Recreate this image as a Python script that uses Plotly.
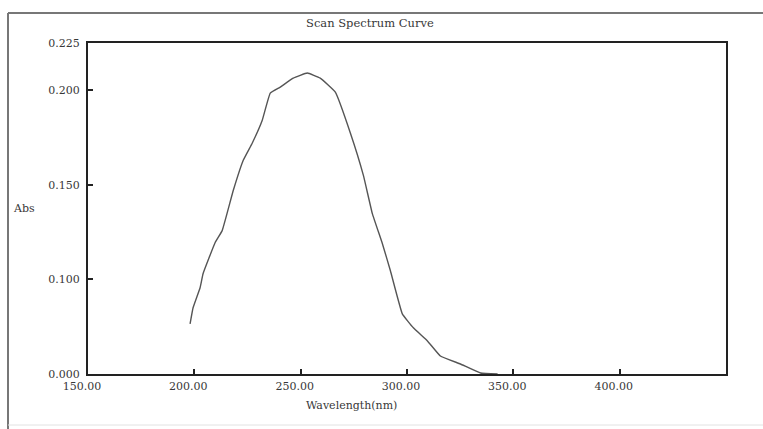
import plotly.graph_objects as go

wavelength = [198.0, 199.4, 202.7, 204.1, 209.8, 213.1, 218.3, 223.0, 227.2, 231.9,
              235.7, 240.4, 246.5, 253.1, 259.2, 266.3, 273.4, 279.5, 283.7, 288.4,
              292.2, 297.8, 303.0, 309.6, 315.7, 325.1, 334.6, 342.6]
absorbance = [0.0765, 0.085, 0.0956, 0.103, 0.1195, 0.1258, 0.147, 0.163, 0.172, 0.184,
              0.1985, 0.2017, 0.2064, 0.2091, 0.2064, 0.199, 0.1773, 0.155, 0.1348, 0.119,
              0.1046, 0.0818, 0.0744, 0.0675, 0.0595, 0.0553, 0.0505, 0.0500]

x_tickvals = [150, 200, 250, 300, 350, 400]
x_ticktext = ["150.00", "200.00", "250.00", "300.00", "350.00", "400.00"]
y_tickvals = [0.05, 0.10, 0.15, 0.20, 0.225]
y_ticktext = ["0.000", "0.100", "0.150", "0.200", "0.225"]

W, H = 763, 429
L, R, T, B = 88, 37, 43, 55
pw, ph = W - L - R, H - T - B

def px_x(x):
    return (x - L) / pw

def px_y(y):
    return (H - B - y) / ph

font = "DejaVu Serif, serif"
tc = "#383838"

fig = go.Figure()
fig.add_trace(go.Scatter(x=wavelength, y=absorbance, mode="lines",
                         line=dict(color="#555555", width=1.4, shape="spline", smoothing=0.3),
                         showlegend=False, hoverinfo="skip"))

fig.update_layout(
    width=W, height=H,
    margin=dict(l=L, r=R, t=T, b=B),
    paper_bgcolor="white", plot_bgcolor="white",
    font=dict(family=font, size=11, color=tc),
    xaxis=dict(range=[150, 450], tickvals=x_tickvals, ticktext=x_ticktext,
               ticks="inside", ticklen=5, tickwidth=2, tickcolor="#222",
               showline=True, linewidth=2, linecolor="#222", mirror=True,
               showgrid=False, zeroline=False, ticklabelshift=-6, ticklabelstandoff=1,
               tickfont=dict(family=font, size=11, color=tc)),
    yaxis=dict(range=[0.05, 0.225], tickvals=y_tickvals, ticktext=y_ticktext,
               ticks="inside", ticklen=5, tickwidth=2, tickcolor="#222",
               showline=True, linewidth=2, linecolor="#222", mirror=True,
               showgrid=False, zeroline=False, ticklabelstandoff=4,
               tickfont=dict(family=font, size=11, color=tc)),
    annotations=[
        dict(text="Scan Spectrum Curve", x=px_x(370), y=px_y(23), xref="paper", yref="paper",
             xanchor="center", yanchor="middle",
             showarrow=False, font=dict(size=11.5, family=font, color=tc)),
        dict(text="Abs", x=px_x(24), y=px_y(208), xref="paper", yref="paper",
             xanchor="center", yanchor="middle",
             showarrow=False, font=dict(size=11, family=font, color=tc)),
        dict(text="Wavelength(nm)", x=px_x(351), y=px_y(405), xref="paper", yref="paper",
             xanchor="center", yanchor="middle",
             showarrow=False, font=dict(size=11, family=font, color=tc)),
    ],
    shapes=[
        dict(type="line", xref="paper", yref="paper", x0=px_x(8), x1=px_x(763),
             y0=px_y(13), y1=px_y(13), line=dict(color="#777", width=2)),
        dict(type="line", xref="paper", yref="paper", x0=px_x(8), x1=px_x(8),
             y0=px_y(13), y1=px_y(429), line=dict(color="#777", width=2)),
        dict(type="line", xref="paper", yref="paper", x0=px_x(8), x1=px_x(763),
             y0=px_y(425), y1=px_y(425), line=dict(color="#e2e2e2", width=1)),
    ],
)

fig.write_html("out.html")
